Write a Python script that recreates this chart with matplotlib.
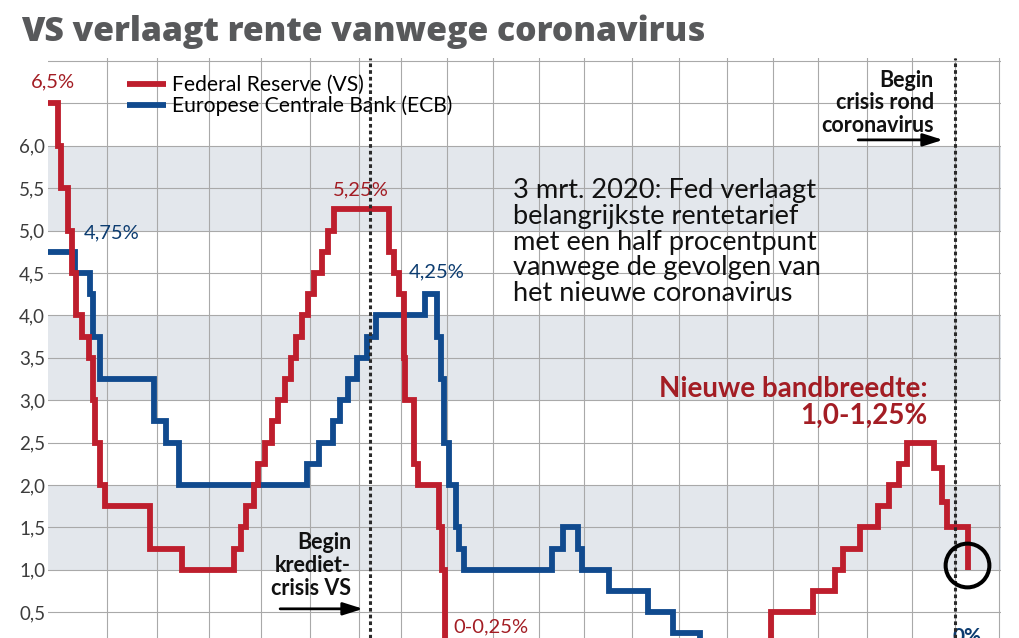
import matplotlib
matplotlib.use("Agg")

import matplotlib.pyplot as plt
import numpy as np

plt.rcParams["font.family"] = ["Lato", "DejaVu Sans"]

RED = "#be1e2d"
BLUE = "#104a8e"
RED_TXT = "#a31d24"
BLUE_TXT = "#0c3c70"
BAND = "#e3e7ec"
GRID = "#a9a9a9"

# Federal Reserve (VS): start of each step (decimal year) and rate in %
fed_x = [2000.82, 2001.01, 2001.08, 2001.21, 2001.30, 2001.37, 2001.49, 2001.64,
         2001.71, 2001.75, 2001.85, 2001.95, 2002.85, 2003.48, 2004.49, 2004.61,
         2004.72, 2004.86, 2004.95, 2005.09, 2005.22, 2005.34, 2005.49, 2005.61,
         2005.72, 2005.83, 2005.95, 2006.08, 2006.24, 2006.36, 2006.49, 2007.71,
         2007.83, 2007.95, 2008.06, 2008.08, 2008.28, 2008.36, 2008.83, 2008.89,
         2008.96, 2015.96, 2016.89, 2017.35, 2017.50, 2017.86, 2018.25, 2018.48,
         2018.71, 2018.89, 2019.51, 2019.70, 2019.81, 2020.30]
fed_y = [6.5, 6.0, 5.5, 5.0, 4.5, 4.0, 3.75, 3.5,
         3.0, 2.5, 2.0, 1.75, 1.25, 1.0, 1.25, 1.5,
         1.75, 2.0, 2.25, 2.5, 2.75, 3.0, 3.25, 3.5,
         3.75, 4.0, 4.25, 4.5, 4.75, 5.0, 5.25, 4.75,
         4.5, 4.25, 3.5, 3.0, 2.25, 2.0, 1.5, 1.0,
         0.125, 0.5, 0.75, 1.0, 1.25, 1.5, 1.75, 2.0,
         2.25, 2.5, 2.2, 1.8, 1.5, 1.0]

# Europese Centrale Bank (ECB)
ecb_x = [2000.82, 2001.36, 2001.66, 2001.71, 2001.86, 2002.93, 2003.18, 2003.43,
         2005.93, 2006.19, 2006.46, 2006.61, 2006.78, 2006.95, 2007.20, 2007.40,
         2008.52, 2008.79, 2008.87, 2008.94, 2009.05, 2009.19, 2009.27, 2009.36,
         2011.28, 2011.53, 2011.86, 2011.95, 2012.53, 2013.35, 2013.87, 2014.44,
         2014.69, 2016.21, 2021.05]
ecb_y = [4.75, 4.5, 4.25, 3.75, 3.25, 2.75, 2.5, 2.0,
         2.25, 2.5, 2.75, 3.0, 3.25, 3.5, 3.75, 4.0,
         4.25, 3.75, 3.25, 2.5, 2.0, 1.5, 1.25, 1.0,
         1.25, 1.5, 1.25, 1.0, 0.75, 0.5, 0.25, 0.15,
         0.05, 0.0, 0.0]

y_ticks = [0.5, 1.0, 1.5, 2.0, 2.5, 3.0, 3.5, 4.0, 4.5, 5.0, 5.5, 6.0, 6.5, 7.0]
y_labels = ["0,5", "1,0", "1,5", "2,0", "2,5", "3,0", "3,5", "4,0", "4,5",
            "5,0", "5,5", "6,0", "", ""]
bands = [(1.0, 2.0), (3.0, 4.0), (5.0, 6.0)]
year_lines = list(range(2002, 2022))

# the original graphic has uneven year columns (2001 .. 2021)
col_width = [50, 50, 52, 52, 49, 49, 42, 46, 46, 46, 45, 48, 47, 48, 46, 45, 49, 45, 43, 44]
edge_years = np.arange(2001, 2022)
edge_pos = np.concatenate([[0], np.cumsum(col_width)])
ext_years = np.concatenate([[1991], edge_years, [2031]])
ext_pos = np.concatenate([[-10 * col_width[0]], edge_pos, [edge_pos[-1] + 10 * col_width[-1]]])


def fwd(x):
    return np.interp(np.asarray(x, dtype=float), ext_years, ext_pos)


def inv(p):
    return np.interp(np.asarray(p, dtype=float), ext_pos, ext_years)


credit_crisis = 2007.26
corona_crisis = 2020.0

Y_MIN, Y_MAX = 0.196, 7.04
PX_PER_UNIT = 84.8

fig = plt.figure(figsize=(10.2, 6.38), dpi=100)
ax = fig.add_axes([48 / 1020, 0, 953 / 1020, (Y_MAX - Y_MIN) * PX_PER_UNIT / 638])
ax.set_xscale("function", functions=(fwd, inv))
ax.set_xlim(2000.82, 2021.045)
ax.set_ylim(Y_MIN, Y_MAX)
for s in ax.spines.values():
    s.set_visible(False)

for lo, hi in bands:
    ax.axhspan(lo, hi, color=BAND, lw=0, zorder=0.2)

ax.set_yticks(y_ticks)
ax.set_yticklabels(y_labels)
ax.set_xticks(year_lines)
ax.set_xticklabels([])
ax.tick_params(length=0, pad=2, labelsize=13.5, labelcolor="#3c3c3c")
ax.grid(True, color=GRID, lw=0.8, zorder=0.5)
ax.set_axisbelow(True)

ax.step(ecb_x, ecb_y, where="post", color=BLUE, lw=4.2, zorder=3,
        solid_joinstyle="miter", solid_capstyle="butt",
        label="Europese Centrale Bank (ECB)")
ax.step(fed_x, fed_y, where="post", color=RED, lw=4.2, zorder=4,
        solid_joinstyle="miter", solid_capstyle="butt",
        label="Federal Reserve (VS)")

for xv in (credit_crisis, corona_crisis):
    ax.axvline(xv, color="#2a2a2a", lw=2.2, ls=(0, (1.2, 1.0)), zorder=6)

# legend (Fed first)
h, l = ax.get_legend_handles_labels()
ax.legend(h[::-1], l[::-1], loc="upper left", bbox_to_anchor=(127 / 1020, 1 - 75 / 638),
          bbox_transform=fig.transFigure, frameon=False, fontsize=15.2,
          handlelength=1.85, handletextpad=0.3, labelspacing=0.02,
          borderpad=0, borderaxespad=0)

# title
fig.text(21 / 1020, 1 - 41 / 638, "VS verlaagt rente vanwege coronavirus",
         fontsize=24.3, fontweight="heavy", color="#58595b", va="baseline", ha="left",
         family=["Open Sans", "DejaVu Sans"])

# value labels
ax.text(2000.92, 6.75, "6,5%", color=RED_TXT, fontsize=14.5, ha="center", va="center")
ax.text(2002.09, 4.97, "4,75%", color=BLUE_TXT, fontsize=14.5, ha="center", va="center")
ax.text(2007.05, 5.48, "5,25%", color=RED_TXT, fontsize=14.5, ha="center", va="center")
ax.text(2008.78, 4.51, "4,25%", color=BLUE_TXT, fontsize=14.5, ha="center", va="center")
ax.text(2009.13, 0.326, "0-0,25%", color=RED_TXT, fontsize=14.5, ha="left", va="center")
ax.text(2019.95, 0.33, "0%", color=BLUE_TXT, fontsize=15, fontweight="bold",
        ha="left", va="top")

ax.text(2010.43, 5.62,
        "3 mrt. 2020: Fed verlaagt\nbelangrijkste rentetarief\nmet een half procentpunt\n"
        "vanwege de gevolgen van\nhet nieuwe coronavirus",
        fontsize=19.6, color="#111111", ha="left", va="top", linespacing=1.04)

ax.text(2019.37, 3.28, "Nieuwe bandbreedte:\n1,0-1,25%", fontsize=20,
        fontweight="bold", color=RED_TXT, ha="right", va="top",
        multialignment="right", linespacing=1.0)

ax.text(2019.51, 6.90, "Begin\ncrisis rond\ncoronavirus", fontsize=15.5,
        fontweight="bold", color="#111111", ha="right", va="top",
        multialignment="right", linespacing=1.1)
ax.text(2006.84, 1.45, "Begin\nkrediet-\ncrisis VS", fontsize=15.5,
        fontweight="bold", color="#111111", ha="right", va="top",
        multialignment="right", linespacing=1.12)

arrow = dict(arrowstyle="-|>,head_length=1.2,head_width=0.38", lw=2.0,
             color="black", shrinkA=0, shrinkB=0)
ax.annotate("", xy=(2007.095, 0.54), xytext=(2005.39, 0.54), arrowprops=arrow, zorder=7)
ax.annotate("", xy=(2019.72, 6.07), xytext=(2017.82, 6.07), arrowprops=arrow, zorder=7)

# circle round the latest cut
ax.plot([2020.27], [1.057], marker="o", ms=31.5, mfc="none", mec="black",
        mew=2.9, zorder=8, clip_on=False)

fig.savefig("out.png", dpi=100)
